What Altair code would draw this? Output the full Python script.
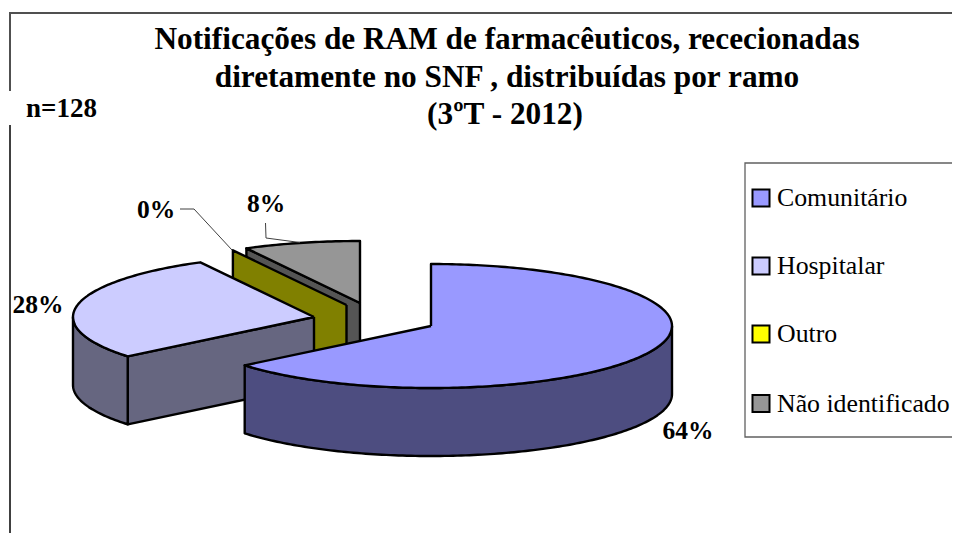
import numpy as np
import pandas as pd
import altair as alt

# ---- data ----
categories = ["Comunitário", "Hospitalar", "Outro", "Não identificado"]
counts = [82, 36, 0, 10]
pct_labels = ["64%", "28%", "0%", "8%"]
title_lines = ["Notificações de RAM de farmacêuticos, rececionadas",
               "diretamente no SNF , distribuídas por ramo",
               "(3ºT - 2012)"]
n_label = "n=128"
top_colors = ["#9999FF", "#CCCCFF", "#808000", "#969696"]
side_colors = ["#4D4D80", "#666680", "#808000", "#555555"]
legend_colors = ["#9999FF", "#CCCCFF", "#FFFF00", "#969696"]

# ---- layout (page pixels) ----
W, H = 944, 525
RIGHT = 8 + W
RX, RY, DEPTH = 241, 62, 68
centers = [(431, 326), (314, 317), (346.5, 305), (360, 303)]
FONT = "Liberation Serif"

xs = alt.Scale(domain=[8, 8 + W], range=[0, W], nice=False, zero=False)
ys = alt.Scale(domain=[8, 8 + H], range=[0, H], nice=False, zero=False)


def rim(c, a0, a1, dy=0.0):
    t = np.radians(np.linspace(a0, a1, max(2, int(abs(a1 - a0)) + 2)))
    return list(zip(c[0] + RX * np.sin(t), c[1] - RY * np.cos(t) + dy))


def poly(points, fill, width=2.4, stroke="black"):
    df = pd.DataFrame(points, columns=["x", "y"])
    df["i"] = range(len(df))
    return alt.Chart(df).mark_line(
        filled=True, fill=fill, stroke=stroke, strokeWidth=width,
        strokeJoin="round", clip=False, opacity=1,
    ).encode(
        x=alt.X("x:Q", scale=xs, axis=None),
        y=alt.Y("y:Q", scale=ys, axis=None),
        order="i:Q",
    )


def path(points, color, width):
    df = pd.DataFrame(points, columns=["x", "y"])
    df["i"] = range(len(df))
    return alt.Chart(df).mark_line(color=color, strokeWidth=width).encode(
        x=alt.X("x:Q", scale=xs, axis=None),
        y=alt.Y("y:Q", scale=ys, axis=None),
        order="i:Q",
    )


def text(rows, size, bold=True, align="center"):
    df = pd.DataFrame(rows, columns=["x", "y", "t"])
    return alt.Chart(df).mark_text(
        font=FONT, fontSize=size, fontWeight="bold" if bold else "normal",
        align=align, baseline="middle", color="black",
    ).encode(
        x=alt.X("x:Q", scale=xs, axis=None),
        y=alt.Y("y:Q", scale=ys, axis=None),
        text="t:N",
    )


shares = np.array(counts) / sum(counts)
edges = np.concatenate([[0], np.cumsum(shares) * 360])
a = [(edges[i], edges[i + 1]) for i in range(4)]

layers = []

# frame and legend box (both run off the right edge of the picture)
layers.append(path([(10, 125), (10, 533)], "#404040", 2))
layers.append(path([(10, 91), (10, 13), (RIGHT, 13)], "#505050", 2))
layers.append(path([(RIGHT, 163), (745, 163), (745, 437), (RIGHT, 437)], "#606060", 1.3))

# "Não identificado" slice
c = centers[3]
s, e = a[3]
r0 = rim(c, s, s)[0]
layers.append(poly([c, r0, (r0[0], r0[1] + DEPTH), (c[0], c[1] + DEPTH), c], side_colors[3]))
layers.append(poly([c] + rim(c, s, e) + [c], top_colors[3]))

# "Outro" slice: a zero-width wedge, only its wall shows
c = centers[2]
r0 = rim(c, a[2][0], a[2][0])[0]
layers.append(poly([c, r0, (r0[0], r0[1] + DEPTH), (c[0], c[1] + DEPTH), c], top_colors[2]))

# "Hospitalar" slice
c = centers[1]
s, e = a[1]
r0 = rim(c, s, s)[0]
layers.append(poly([c, r0, (r0[0], r0[1] + DEPTH), (c[0], c[1] + DEPTH), c], side_colors[1]))
low = rim(c, s, 270)
layers.append(poly(low + [(x, y + DEPTH) for x, y in low[::-1]] + [low[0]], side_colors[1]))
layers.append(poly([c] + rim(c, s, e) + [c], top_colors[1]))

# "Comunitário" slice
c = centers[0]
s, e = a[0]
low = rim(c, 90, e)
layers.append(poly(low + [(x, y + DEPTH) for x, y in low[::-1]] + [low[0]], side_colors[0]))
layers.append(poly([c] + rim(c, s, e) + [c], top_colors[0]))

# leader lines
layers.append(path([(180, 209), (194, 209), (232, 250)], "#404040", 1))
layers.append(path([(265.5, 223), (266, 238), (300, 242.5)], "#404040", 1))

# texts
layers.append(text([(507, 40, title_lines[0]), (507, 78, title_lines[1]), (505, 115, title_lines[2])], 31.3))
layers.append(text([(26, 109, n_label)], 27, align="left"))
layers.append(text([(688, 431, pct_labels[0]), (38, 305, pct_labels[1]),
                    (156, 210, pct_labels[2]), (266, 204, pct_labels[3])], 25.5))

# legend
leg_y = [198, 266, 334, 403.5]
leg = pd.DataFrame({"x": [761] * 4, "y": leg_y, "cat": categories, "tx": [777] * 4})
layers.append(alt.Chart(leg).mark_square(size=290, opacity=1, stroke="black", strokeWidth=2).encode(
    x=alt.X("x:Q", scale=xs, axis=None),
    y=alt.Y("y:Q", scale=ys, axis=None),
    fill=alt.Fill("cat:N", scale=alt.Scale(domain=categories, range=legend_colors), legend=None),
))
layers.append(alt.Chart(leg).mark_text(font=FONT, fontSize=25.8, align="left", baseline="middle", color="black").encode(
    x=alt.X("tx:Q", scale=xs, axis=None),
    y=alt.Y("y:Q", scale=ys, axis=None),
    text="cat:N",
))

chart = alt.layer(*layers).properties(
    width=W, height=H, padding=0, background="white",
    autosize=alt.AutoSizeParams(type="none"),
).configure_view(stroke=None)

chart.save("out.html", embed_options={"renderer": "svg", "actions": False})
